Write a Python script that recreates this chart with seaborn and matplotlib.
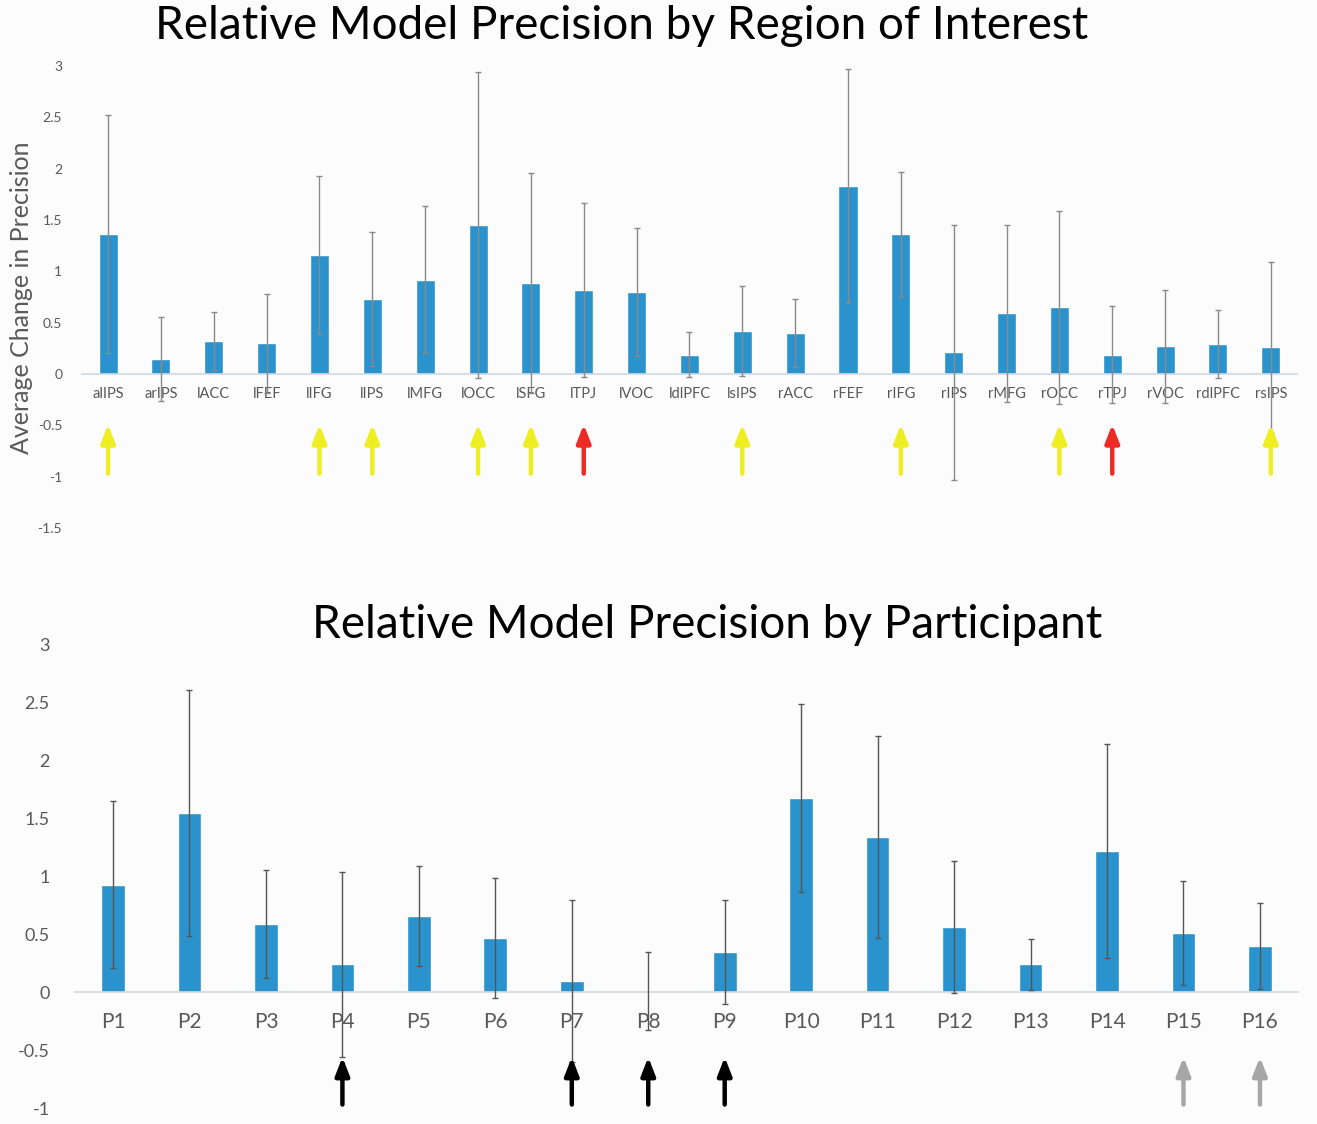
import matplotlib
matplotlib.use("Agg")
import matplotlib.pyplot as plt
import seaborn as sns
import pandas as pd
import numpy as np

# ---------------- data ----------------
roi_labels = ["alIPS", "arIPS", "lACC", "lFEF", "lIFG", "lIPS", "lMFG", "lOCC", "lSFG",
              "lTPJ", "lVOC", "ldlPFC", "lsIPS", "rACC", "rFEF", "rIFG", "rIPS", "rMFG",
              "rOCC", "rTPJ", "rVOC", "rdlPFC", "rsIPS"]
roi_values = [1.36, 0.15, 0.32, 0.30, 1.16, 0.73, 0.92, 1.45, 0.89, 0.82, 0.80, 0.19,
              0.42, 0.40, 1.83, 1.36, 0.21, 0.59, 0.65, 0.19, 0.27, 0.29, 0.26]
roi_errors = [1.16, 0.41, 0.28, 0.48, 0.77, 0.65, 0.72, 1.49, 1.07, 0.85, 0.62, 0.22,
              0.44, 0.33, 1.14, 0.61, 1.24, 0.86, 0.94, 0.47, 0.55, 0.33, 0.83]
roi_yellow = ["alIPS", "lIFG", "lIPS", "lOCC", "lSFG", "lsIPS", "rIFG", "rOCC", "rsIPS"]
roi_red = ["lTPJ", "rTPJ"]

part_labels = ["P1", "P2", "P3", "P4", "P5", "P6", "P7", "P8", "P9", "P10", "P11",
               "P12", "P13", "P14", "P15", "P16"]
part_values = [0.93, 1.55, 0.59, 0.24, 0.66, 0.47, 0.095, 0.01, 0.35, 1.68, 1.34,
               0.56, 0.24, 1.22, 0.51, 0.40]
part_errors = [0.72, 1.06, 0.47, 0.80, 0.43, 0.52, 0.70, 0.34, 0.45, 0.81, 0.87,
               0.57, 0.22, 0.92, 0.45, 0.37]
part_black = ["P4", "P7", "P8", "P9"]
part_gray = ["P15", "P16"]

top_yticks = [-1.5, -1, -0.5, 0, 0.5, 1, 1.5, 2, 2.5, 3]
bot_yticks = [-1, -0.5, 0, 0.5, 1, 1.5, 2, 2.5, 3]

# ---------------- style ----------------
sns.set_theme(style="white")
plt.rcParams['font.family'] = ['Lato', 'DejaVu Sans']
BG = "#fcfcfd"
BAR = "#2a92cc"
TXT = "#595959"

fig = plt.figure(figsize=(13.17, 11.24), dpi=100, facecolor=BG)

ax1 = fig.add_axes([0.062, 0.5302, 0.923, 0.4111], facecolor=BG)
ax2 = fig.add_axes([0.0568, 0.01423, 0.9289, 0.4120], facecolor=BG)


def draw(ax, labels, values, errors, width, ylim, yticks, ecolor, fs_x, fs_y,
         padx, pady, arrows, arrow_y):
    df = pd.DataFrame({"cat": labels, "val": values})
    sns.barplot(data=df, x="cat", y="val", color=BAR, saturation=1, width=width,
                ax=ax, errorbar=None)
    x = np.arange(len(labels))
    ax.errorbar(x, values, yerr=errors, fmt="none", ecolor=ecolor, elinewidth=1.0,
                capsize=2.5, capthick=1.0, zorder=5)
    for s in ["top", "right", "left"]:
        ax.spines[s].set_visible(False)
    ax.spines["bottom"].set_position(("data", 0))
    ax.spines["bottom"].set_color("#cfd8e2")
    ax.spines["bottom"].set_linewidth(1.2)
    ax.set_ylim(*ylim)
    ax.set_xlim(-0.5, len(labels) - 0.5)
    ax.set_yticks(yticks)
    ax.set_yticklabels([f"{t:g}" for t in yticks])
    ax.set_xticks(x)
    ax.set_xticklabels(labels)
    ax.set_xlabel("")
    ax.set_ylabel("")
    ax.tick_params(axis="x", length=0, pad=padx, labelsize=fs_x, labelcolor=TXT)
    ax.tick_params(axis="y", length=0, pad=pady, labelsize=fs_y, labelcolor=TXT)
    for names, col in arrows:
        for n in names:
            i = labels.index(n)
            ax.annotate("", xy=(i, arrow_y[1]), xytext=(i, arrow_y[0]),
                        arrowprops=dict(arrowstyle="-|>,head_length=0.9,head_width=0.35",
                                        color=col, lw=3.2, shrinkA=0, shrinkB=0),
                        zorder=6)


draw(ax1, roi_labels, roi_values, roi_errors, 0.36, (-1.5, 3), top_yticks,
     "#8a8a8a", 10.5, 10, 9, 14,
     [(roi_yellow, "#eeee22"), (roi_red, "#ee2a24")], (-0.97, -0.49))
draw(ax2, part_labels, part_values, part_errors, 0.31, (-1, 3), bot_yticks,
     "#555555", 15, 13, 14, 18,
     [(part_black, "#000000"), (part_gray, "#a6a6a6")], (-0.97, -0.56))

fig.text(0.472, 0.977, "Relative Model Precision by Region of Interest",
         ha="center", va="center", fontsize=33, color="black")
fig.text(0.537, 0.444, "Relative Model Precision by Participant",
         ha="center", va="center", fontsize=33, color="black")
fig.text(0.016, 0.735, "Average Change in Precision", rotation=90,
         ha="center", va="center", fontsize=18, color=TXT)

fig.savefig("out.png", dpi=100, facecolor=BG)
